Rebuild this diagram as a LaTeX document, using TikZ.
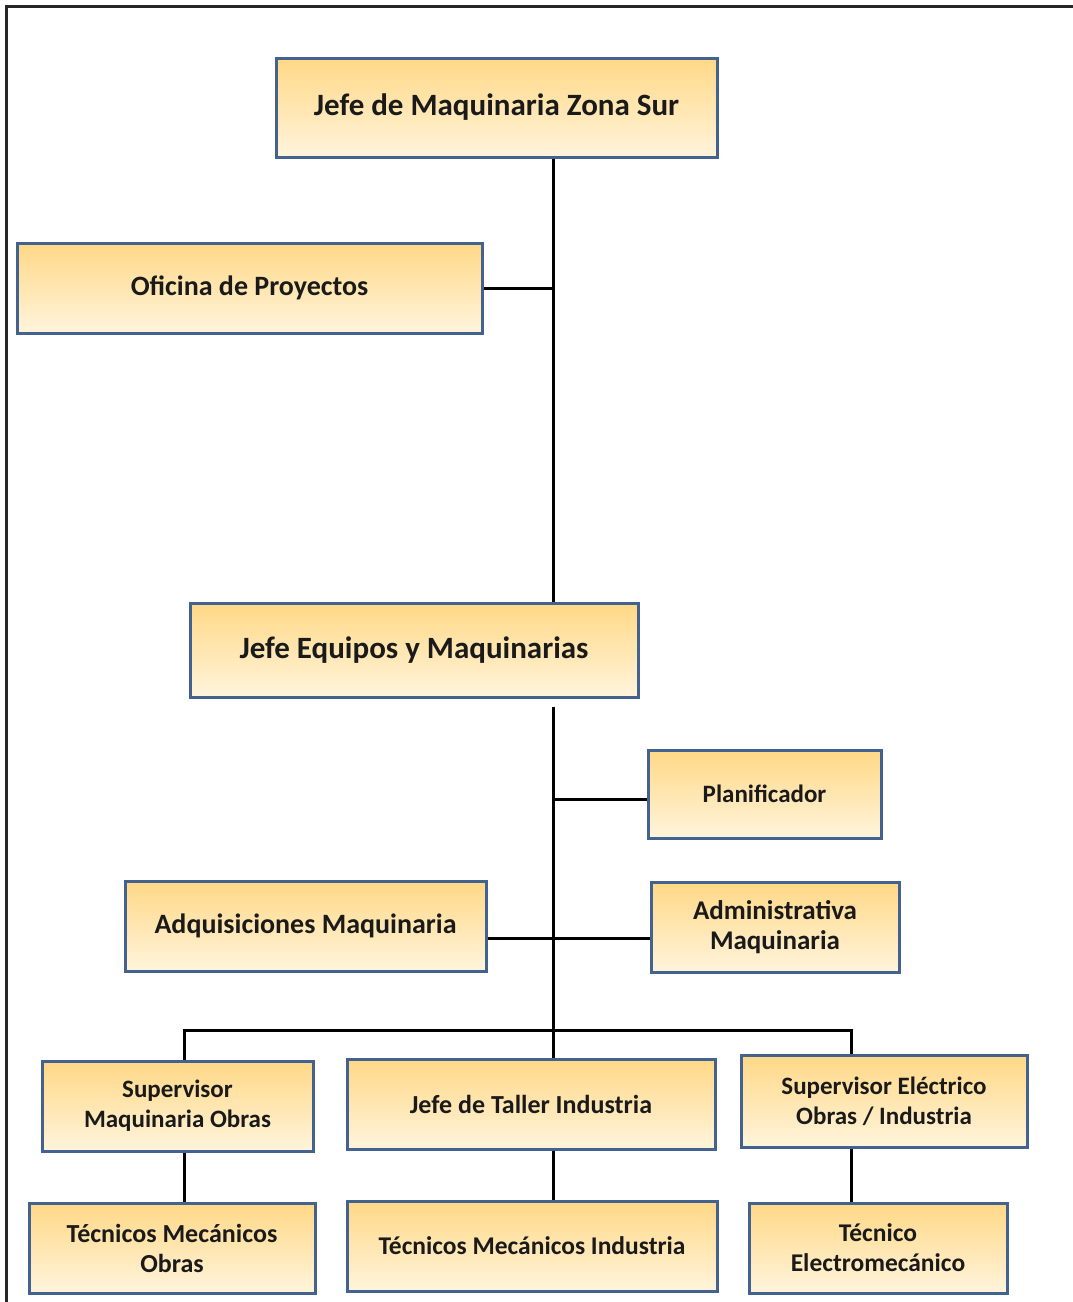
\documentclass[tikz,border=0pt]{standalone}
\usepackage{fontspec}
\setmainfont{Carlito}
\definecolor{boxedge}{HTML}{44628F}
\definecolor{boxtop}{HTML}{FFD886}
\definecolor{boxbottom}{HTML}{FFF4DC}
\definecolor{inktext}{HTML}{1A1A1A}
\tikzset{
  orgbox/.style={draw=boxedge, line width=3pt, top color=boxtop, bottom color=boxbottom,
    inner sep=0pt, align=center, text=inktext, font=\bfseries\fontsize{#1}{30}\selectfont},
  orgbox/.default=26,
  link/.style={draw=black, line width=3pt},
}
\begin{document}
\begin{tikzpicture}[x=1pt, y=-1pt]
\useasboundingbox (0,0) rectangle (1073,1302);
\fill[white] (0,0) rectangle (1073,1302);
% page frame (left and top edges)
\draw[line width=3pt, black!85] (6,1302) -- (6,6) -- (1073,6);

% boxes
\node[orgbox=31, minimum width=441pt, minimum height=99pt] (top) at (496.5,107.5) {Jefe de Maquinaria Zona Sur};
\node[orgbox=28, minimum width=465pt, minimum height=90pt] (ofi) at (249.5,288) {Oficina de Proyectos};
\node[orgbox=31, minimum width=448pt, minimum height=94pt] (jem) at (414,650) {Jefe Equipos y Maquinarias};
\node[orgbox=25, minimum width=233pt, minimum height=88pt] (pla) at (764.5,794) {Planificador};
\node[orgbox=28, minimum width=361pt, minimum height=90pt] (adq) at (305.5,926) {Adquisiciones Maquinaria};
\node[orgbox=27, minimum width=248pt, minimum height=90pt] (adm) at (775,927) {Administrativa\\Maquinaria};
\node[orgbox=25, minimum width=271pt, minimum height=90pt] (sup) at (177.5,1106) {Supervisor\\Maquinaria Obras};
\node[orgbox=26, minimum width=368pt, minimum height=90pt] (jtl) at (531,1104) {Jefe de Taller Industria};
\node[orgbox=25, minimum width=286pt, minimum height=92pt] (sel) at (884,1101) {Supervisor Eléctrico\\Obras / Industria};
\node[orgbox=26, minimum width=286pt, minimum height=90pt] (tmo) at (172,1248) {Técnicos Mecánicos\\Obras};
\node[orgbox=25.5, minimum width=370pt, minimum height=90pt] (tmi) at (532,1246) {Técnicos Mecánicos Industria};
\node[orgbox=25.5, minimum width=258pt, minimum height=90pt] (tel) at (878,1248) {Técnico\\Electromecánico};

% junction points of the trunk and the bus
\coordinate (s0) at (553,160);
\coordinate (j0) at (553,707);
\coordinate (p0) at (553,799);
\coordinate (a0) at (553,938);
\coordinate (bl) at (184,1030);
\coordinate (br) at (851,1030);

% connectors
\draw[link] (top.south -| s0) -- (jem.north -| s0);
\draw[link] (ofi.east) -- (ofi.east -| s0);
\draw[link] (j0) -- (jtl.north -| j0);
\draw[link] (p0) -- (p0 -| pla.west);
\draw[link] (a0 -| adq.east) -- (a0 -| adm.west);
\draw[link] (sup.north -| bl) -- (bl) -- (br) -- (sel.north -| br);
\draw[link] (sup.south -| bl) -- (tmo.north -| bl);
\draw[link] (jtl.south -| j0) -- (tmi.north -| j0);
\draw[link] (sel.south -| br) -- (tel.north -| br);
\end{tikzpicture}
\end{document}
